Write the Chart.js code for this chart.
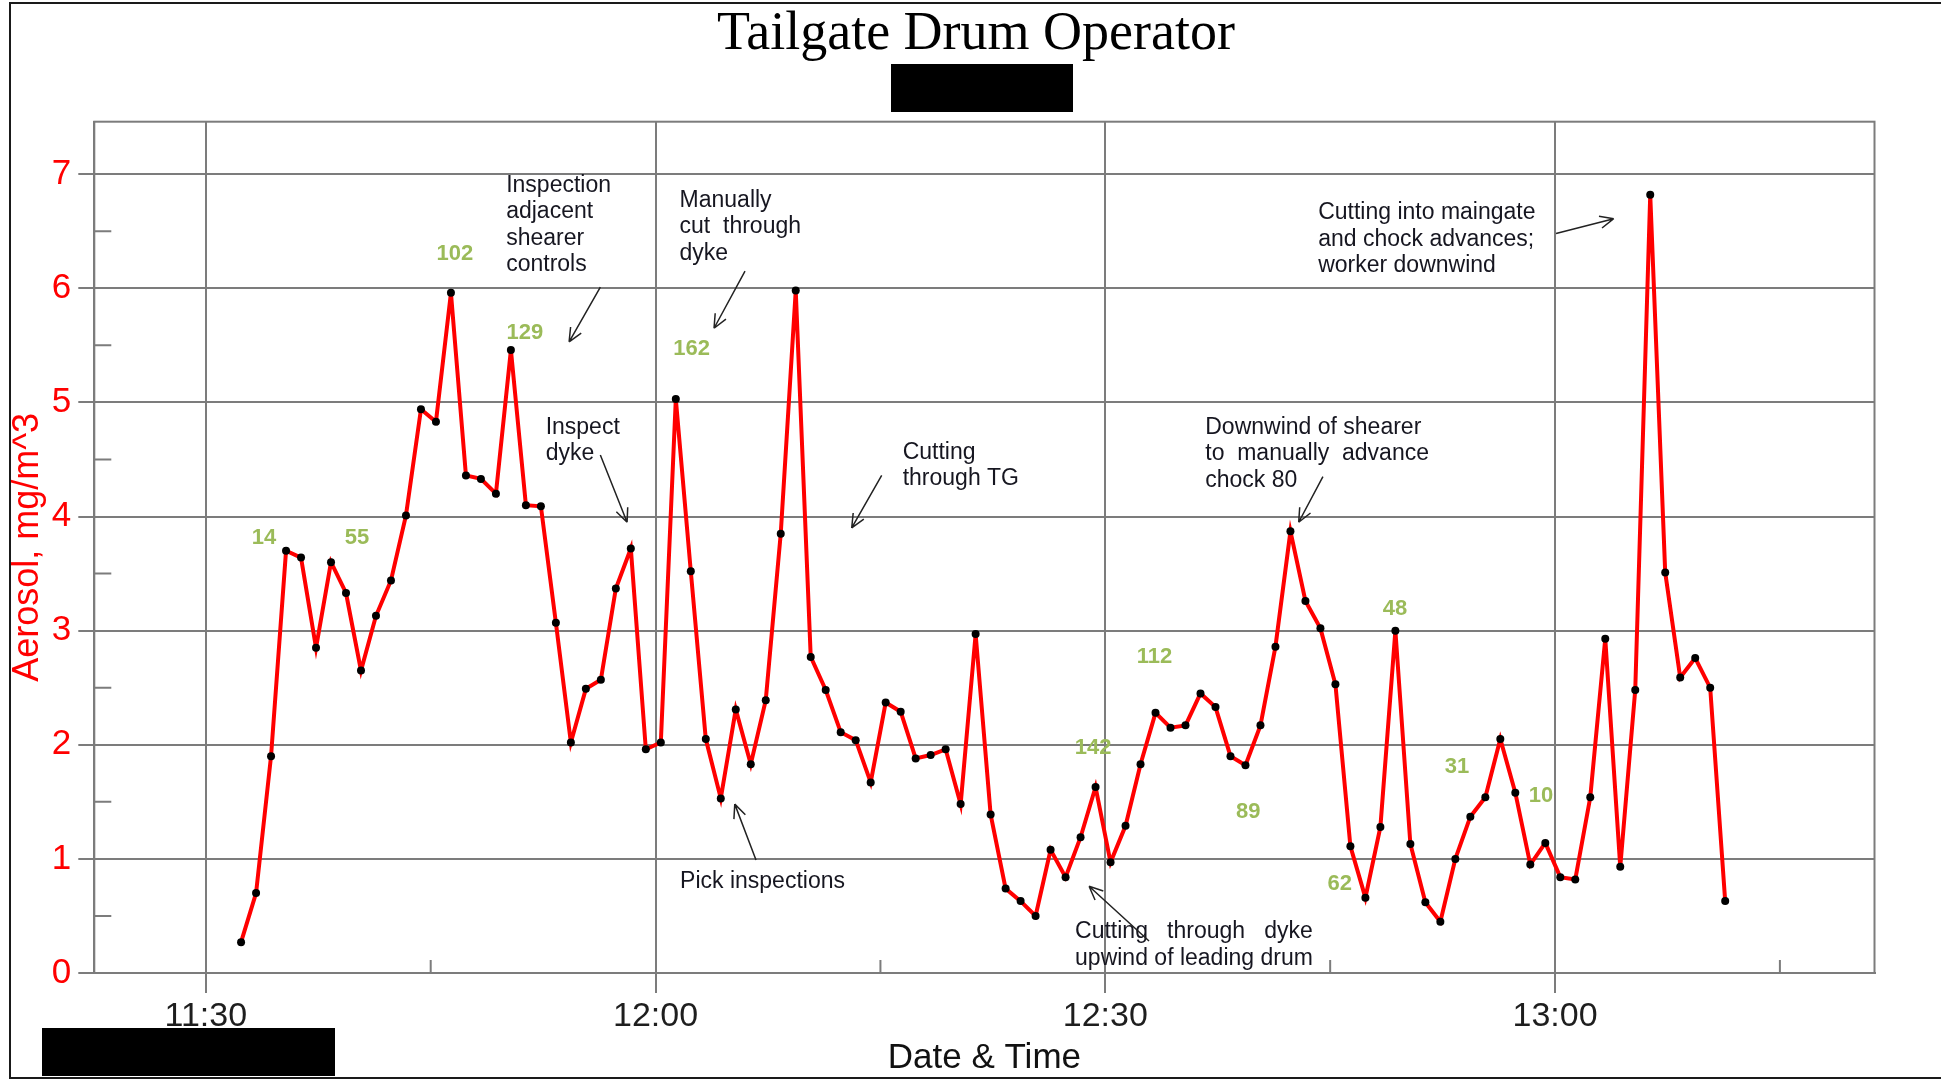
<!DOCTYPE html>
<html>
<head>
<meta charset="utf-8">
<title>Tailgate Drum Operator</title>
<script src="https://cdn.jsdelivr.net/npm/chart.js@4.4.1/dist/chart.umd.min.js"></script>
<style>
  html, body { margin: 0; padding: 0; background: #fff; }
</style>
</head>
<body>
<canvas id="aerosolChart" width="1941" height="1080"></canvas>
<script>
// one reading per minute from the personal sampler
const sampleTimes = [
  '11:32:21', '11:33:21', '11:34:21', '11:35:21', '11:36:21', '11:37:21', '11:38:21', '11:39:21', '11:40:21', '11:41:21',
  '11:42:21', '11:43:21', '11:44:21', '11:45:21', '11:46:21', '11:47:21', '11:48:21', '11:49:21', '11:50:21', '11:51:21',
  '11:52:21', '11:53:21', '11:54:21', '11:55:21', '11:56:21', '11:57:21', '11:58:21', '11:59:21', '12:00:21', '12:01:21',
  '12:02:21', '12:03:21', '12:04:21', '12:05:21', '12:06:21', '12:07:21', '12:08:21', '12:09:21', '12:10:21', '12:11:21',
  '12:12:21', '12:13:21', '12:14:21', '12:15:21', '12:16:21', '12:17:21', '12:18:21', '12:19:21', '12:20:21', '12:21:21',
  '12:22:21', '12:23:21', '12:24:21', '12:25:21', '12:26:21', '12:27:21', '12:28:21', '12:29:21', '12:30:21', '12:31:21',
  '12:32:21', '12:33:21', '12:34:21', '12:35:21', '12:36:21', '12:37:21', '12:38:21', '12:39:21', '12:40:21', '12:41:21',
  '12:42:21', '12:43:21', '12:44:21', '12:45:21', '12:46:21', '12:47:21', '12:48:21', '12:49:21', '12:50:21', '12:51:21',
  '12:52:21', '12:53:21', '12:54:21', '12:55:21', '12:56:21', '12:57:21', '12:58:21', '12:59:21', '13:00:21', '13:01:21',
  '13:02:21', '13:03:21', '13:04:21', '13:05:21', '13:06:21', '13:07:21', '13:08:21', '13:09:21', '13:10:21', '13:11:21'
];

const aerosolValues = [
  0.27, 0.70, 1.90, 3.70, 3.64, 2.85, 3.60, 3.33, 2.65, 3.13,
  3.44, 4.01, 4.94, 4.83, 5.96, 4.36, 4.33, 4.20, 5.46, 4.10,
  4.09, 3.07, 2.02, 2.49, 2.57, 3.37, 3.72, 1.96, 2.02, 5.03,
  3.52, 2.05, 1.53, 2.31, 1.83, 2.39, 3.85, 5.98, 2.77, 2.48,
  2.11, 2.04, 1.67, 2.37, 2.29, 1.88, 1.91, 1.96, 1.48, 2.97,
  1.39, 0.74, 0.63, 0.50, 1.08, 0.84, 1.19, 1.63, 0.97, 1.29,
  1.83, 2.28, 2.15, 2.17, 2.45, 2.33, 1.90, 1.82, 2.17, 2.86,
  3.87, 3.26, 3.02, 2.53, 1.11, 0.66, 1.28, 3.00, 1.13, 0.62,
  0.45, 1.00, 1.37, 1.54, 2.05, 1.58, 0.95, 1.14, 0.84, 0.82,
  1.54, 2.93, 0.93, 2.48, 6.82, 3.51, 2.59, 2.76, 2.50, 0.63
];

const xMajorTicks = ['11:30', '12:00', '12:30', '13:00'];
const xMinorTicks = ['11:45', '12:15', '12:45', '13:15'];
const yMajorTicks = [0, 1, 2, 3, 4, 5, 6, 7];
const yMinorTicks = [0.5, 1.5, 2.5, 3.5, 4.5, 5.5, 6.5];

// shield / chock numbers written on the chart in green
const doseLabels = ['14', '55', '102', '129', '162', '142', '112', '89', '62', '48', '31', '10'];
const doseAnchors = [
  ['11:33:53', 3.81], ['11:40:05', 3.81], ['11:46:37', 6.30], ['11:51:17', 5.61],
  ['12:02:24', 5.47], ['12:29:11', 1.97], ['12:33:17', 2.77], ['12:39:32', 1.41],
  ['12:45:38', 0.78], ['12:49:19', 3.19], ['12:53:28', 1.81], ['12:59:04', 1.55]
];

// event notes with their arrows
const notes = [
  { lines: ['Inspection', 'adjacent', 'shearer', 'controls'], at: ['11:50:02', 6.90],
    from: ['11:56:19', 6.01], to: ['11:54:14', 5.53] },
  { lines: ['Manually', 'cut  through', 'dyke'], at: ['12:01:36', 6.77],
    from: ['12:05:58', 6.15], to: ['12:03:54', 5.65] },
  { lines: ['Inspect', 'dyke'], at: ['11:52:40', 4.78],
    from: ['11:56:19', 4.54], to: ['11:58:06', 3.95] },
  { lines: ['Cutting', 'through TG'], at: ['12:16:29', 4.56],
    from: ['12:15:05', 4.36], to: ['12:13:05', 3.90] },
  { lines: ['Downwind of shearer', 'to  manually  advance', 'chock 80'], at: ['12:36:40', 4.78],
    from: ['12:44:31', 4.35], to: ['12:42:54', 3.95] },
  { lines: ['Cutting into maingate', 'and chock advances;', 'worker downwind'], at: ['12:44:12', 6.66],
    from: ['13:00:04', 6.48], to: ['13:03:55', 6.61] },
  { lines: ['Pick inspections'], at: ['12:01:38', 0.80],
    from: ['12:06:42', 0.99], to: ['12:05:17', 1.48] },
  { lines: ['Cutting   through   dyke', 'upwind of leading drum'], at: ['12:27:59', 0.36],
    from: ['12:32:55', 0.28], to: ['12:28:55', 0.76] }
];

const chartTitle = 'Tailgate Drum Operator';

const gridColour = '#7c7c7c';
const lineColour = '#ff0000';
const doseColour = '#9bbb59';
const noteColour = '#161620';
const sansFont = "'Liberation Sans', Arial, sans-serif";
const serifFont = "'Liberation Serif', 'Times New Roman', serif";

Chart.defaults.font.family = sansFont;

function toMinutes(t) {
  const [h, m, s = 0] = t.split(':').map(Number);
  return h * 60 + m + s / 60;
}

function formatTime(min) {
  const h = Math.floor(min / 60);
  const m = Math.round(min - h * 60);
  return `${h}:${String(m).padStart(2, '0')}`;
}

function toPixel(chart, [t, v]) {
  return {
    x: chart.scales.x.getPixelForValue(toMinutes(t)),
    y: chart.scales.y.getPixelForValue(v)
  };
}

function drawArrow(ctx, a, b) {
  const ang = Math.atan2(b.y - a.y, b.x - a.x);
  ctx.beginPath();
  ctx.moveTo(a.x, a.y);
  ctx.lineTo(b.x, b.y);
  for (const s of [-1, 1]) {
    ctx.moveTo(b.x, b.y);
    ctx.lineTo(b.x - 15 * Math.cos(ang + s * 0.42), b.y - 15 * Math.sin(ang + s * 0.42));
  }
  ctx.stroke();
}

// white page, title, plot frame, minor ticks, page border and the blacked-out boxes
const pagePlugin = {
  id: 'page',
  beforeDraw(chart) {
    const { ctx } = chart;
    ctx.save();
    ctx.fillStyle = '#fff';
    ctx.fillRect(0, 0, chart.width, chart.height);
    ctx.fillStyle = '#000';
    ctx.font = `54px ${serifFont}`;
    ctx.textAlign = 'center';
    ctx.textBaseline = 'middle';
    ctx.fillText(chartTitle, 976, 35);
    ctx.restore();
  },
  beforeDatasetsDraw(chart) {
    const { ctx, chartArea: area, scales } = chart;
    ctx.save();
    ctx.strokeStyle = gridColour;
    ctx.lineWidth = 2;
    ctx.strokeRect(area.left, area.top, area.right - area.left, area.bottom - area.top);
    ctx.beginPath();
    yMinorTicks.forEach(v => {
      const y = scales.y.getPixelForValue(v);
      ctx.moveTo(area.left, y);
      ctx.lineTo(area.left + 17, y);
    });
    xMinorTicks.forEach(t => {
      const x = scales.x.getPixelForValue(toMinutes(t));
      ctx.moveTo(x, area.bottom);
      ctx.lineTo(x, area.bottom - 13);
    });
    ctx.stroke();
    ctx.restore();
  },
  afterDraw(chart) {
    const { ctx } = chart;
    ctx.save();
    ctx.strokeStyle = '#1a1a1a';
    ctx.lineWidth = 2;
    ctx.strokeRect(10, 3, chart.width + 20, 1075);
    ctx.fillStyle = '#000';
    ctx.fillRect(891, 64, 182, 48);
    ctx.fillRect(42, 1028, 293, 48);
    ctx.restore();
  }
};

const notesPlugin = {
  id: 'notes',
  afterDatasetsDraw(chart) {
    const { ctx } = chart;
    ctx.save();
    ctx.textBaseline = 'middle';

    ctx.fillStyle = doseColour;
    ctx.textAlign = 'center';
    ctx.font = `bold 22px ${sansFont}`;
    doseLabels.forEach((label, i) => {
      const p = toPixel(chart, doseAnchors[i]);
      ctx.fillText(label, p.x, p.y);
    });

    ctx.fillStyle = noteColour;
    ctx.strokeStyle = '#222';
    ctx.lineWidth = 1.5;
    ctx.textAlign = 'left';
    ctx.font = `23px ${sansFont}`;
    notes.forEach(n => {
      const p = toPixel(chart, n.at);
      n.lines.forEach((line, j) => ctx.fillText(line, p.x, p.y + j * 26.5));
      drawArrow(ctx, toPixel(chart, n.from), toPixel(chart, n.to));
    });
    ctx.restore();
  }
};

const points = sampleTimes.map((t, i) => ({ x: toMinutes(t), y: aerosolValues[i] }));

new Chart(document.getElementById('aerosolChart').getContext('2d'), {
  type: 'line',
  data: {
    datasets: [{
      label: 'Aerosol',
      data: points,
      borderColor: lineColour,
      borderWidth: 4,
      pointRadius: 4,
      pointBackgroundColor: '#000',
      pointBorderWidth: 0,
      tension: 0
    }]
  },
  options: {
    responsive: false,
    animation: false,
    layout: { padding: { left: 0, right: 66.5, top: 121.7, bottom: 0 } },
    plugins: {
      legend: { display: false },
      tooltip: { enabled: false },
      title: { display: false }
    },
    scales: {
      x: {
        type: 'linear',
        min: 682.56,
        max: 801.31,
        afterBuildTicks: s => { s.ticks = xMajorTicks.map(t => ({ value: toMinutes(t) })); },
        afterFit: s => { s.height = 107; },
        ticks: {
          callback: v => formatTime(v),
          color: '#1e1e1e',
          font: { size: 34 },
          padding: 3,
          maxRotation: 0,
          autoSkip: false
        },
        grid: { color: gridColour, lineWidth: 2, tickLength: 20, tickColor: gridColour },
        border: { color: gridColour, width: 2 },
        title: {
          display: true,
          text: 'Date & Time',
          color: '#111',
          font: { size: 35, lineHeight: 1 },
          padding: { top: 0, bottom: 4 }
        }
      },
      y: {
        min: 0,
        max: 7.46,
        afterBuildTicks: s => { s.ticks = yMajorTicks.map(v => ({ value: v })); },
        afterFit: s => { s.width = 94.3; },
        ticks: { color: '#ff0000', font: { size: 35 }, padding: 7 },
        grid: { color: gridColour, lineWidth: 2, tickLength: 16, tickColor: gridColour },
        border: { color: gridColour, width: 2 },
        title: {
          display: true,
          text: 'Aerosol, mg/m^3',
          color: '#ff0000',
          font: { size: 36, lineHeight: 1 },
          padding: { top: 10, bottom: 0 }
        }
      }
    }
  },
  plugins: [pagePlugin, notesPlugin]
});
</script>
</body>
</html>
